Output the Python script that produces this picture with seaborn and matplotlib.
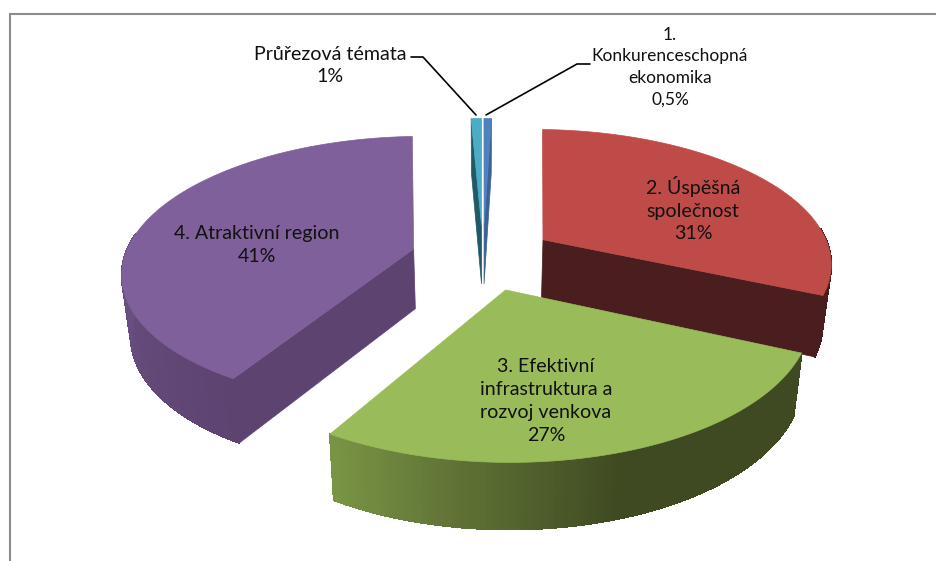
#kolac 3D - seaborn nema pie, takze se vseci rucne pres projekci
import numpy as np
import matplotlib.pyplot as plt
import seaborn as sns

#podily v procentech, po smeru hodin od 12 hodin
#v popiscich jsou zaokrouhlene
names = ['1. Konkurenceschopná ekonomika', '2. Úspěšná společnost',
         '3. Efektivní infrastruktura a rozvoj venkova', '4. Atraktivní region',
         'Průřezová témata']
shares = [0.5, 31.4, 27, 41, 0.7]
labels = ['1.\nKonkurenceschopná\nekonomika\n0,5%', '2. Úspěšná\nspolečnost\n31%',
          '3. Efektivní\ninfrastruktura a\nrozvoj venkova\n27%', '4. Atraktivní region\n41%',
          'Průřezová témata\n1%']
top_colors = ['#4f81bd', '#be4b48', '#9abb59', '#7f609a', '#4bacc6']
side_stops = [['#3b6291', '#3b6291'], ['#4a1e1e', '#4a1e1e'],
              ['#3f4a22', '#3f4a22', '#7a9445'], ['#5c4370', '#6e5488', '#6e5488'],
              ['#215968', '#215968']]
draw_order = [0, 4, 3, 1, 2]

#projekce
cx, cy = 483, 257
rx, ry = 289, 133
persp = 0.16
explode = 0.25
depth = 60
shrink = 0.975


def project(p, q, bottom=False):
    s = 1 / (1 + persp * q)
    x = cx + rx * p * s
    y = cy - ry * q * s
    if bottom:
        x = cx + (x - cx) * shrink
        y = y + depth * np.sqrt(s)
    return x, y


sns.set_theme(style='white')
plt.rcParams['font.family'] = ['Lato', 'DejaVu Sans']
fig, ax = plt.subplots(figsize=(9.36, 5.61), dpi=100)
ax.set_position([0, 0, 1, 1])
ax.set_xlim(0, 936)
ax.set_ylim(561, 0)
ax.axis('off')

#ramecek grafu
ax.plot([9.5, 9.5, 936], [561, 13.5, 13.5], color='#8c8c8c', lw=1.5, solid_joinstyle='miter')

angles = np.cumsum([0] + shares) / sum(shares) * 2 * np.pi

for i in draw_order:
    t0, t1 = angles[i], angles[i + 1]
    mid = (t0 + t1) / 2
    ox, oy = explode * np.sin(mid), explode * np.cos(mid)
    t = np.linspace(t0, t1, 121)
    p = ox + np.sin(t)
    q = oy + np.cos(t)
    xt, yt = project(p, q)
    xb, yb = project(p, q, bottom=True)
    ax0, ay0 = project(ox, oy)
    bx0, by0 = project(ox, oy, bottom=True)

    #vnejsi plast, jen cast otocena k divakovi
    shades = sns.blend_palette(side_stops[i], len(t) - 1)
    for j in range(len(t) - 1):
        if np.cos(t[j]) < 0.1:
            ax.fill([xt[j], xt[j + 1], xb[j + 1], xb[j]], [yt[j], yt[j + 1], yb[j + 1], yb[j]],
                    color=shades[j], lw=0.8, antialiased=False)

    #rezy viditelne jen kdyz normala miri k divakovi
    if np.cos(t0 - np.pi / 2) < 0:
        ax.fill([ax0, xt[0], xb[0], bx0], [ay0, yt[0], yb[0], by0], color=side_stops[i][0], lw=0.5)
    if np.cos(t1 + np.pi / 2) < 0:
        ax.fill([ax0, xt[-1], xb[-1], bx0], [ay0, yt[-1], yb[-1], by0], color=side_stops[i][0], lw=0.5)

    #horni plocha
    ax.fill(np.r_[ax0, xt], np.r_[ay0, yt], color=top_colors[i], lw=0.5)

#popisky
text_pos = [(670, 67, 12.5), (693, 209, 14.1), (546, 401, 14.1), (257, 245, 14.1), (330, 65.5, 14.1)]
for lab, (x, y, size) in zip(labels, text_pos):
    ax.text(x, y, lab, ha='center', va='center', fontsize=size, linespacing=1.42, color='#111111')

#odkazove cary
ax.plot([411, 423, 476], [57, 57, 115], color='black', lw=1.2)
ax.plot([486, 577, 590], [115, 64, 64], color='black', lw=1.2)

fig.savefig('out.png', dpi=100)
